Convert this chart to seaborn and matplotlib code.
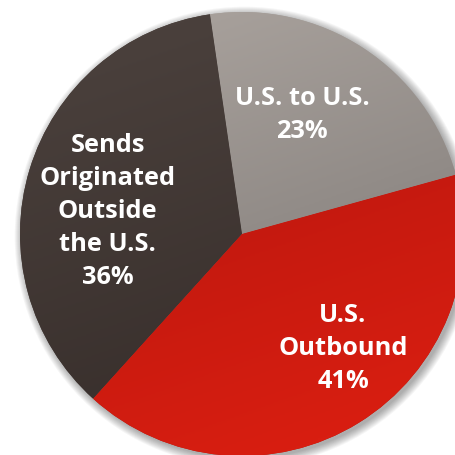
import numpy as np
import matplotlib
matplotlib.use('Agg')
import matplotlib.pyplot as plt
from matplotlib.colors import LinearSegmentedColormap
from matplotlib.patches import Circle
import seaborn as sns

sns.set_theme(style='white')
plt.rcParams['font.family'] = ['Open Sans', 'DejaVu Sans']

labels = ['U.S. to U.S.', 'Sends\nOriginated\nOutside\nthe U.S.', 'U.S.\nOutbound']
shares = [23, 36, 41]
top_colors = ['#a7a09b', '#4a403c', '#b2150d']
bottom_colors = ['#7c7774', '#352c29', '#d81e11']
label_pos = [(0.27, 0.535), (-0.605, 0.10), (0.455, -0.515)]

fig = plt.figure(figsize=(4.55, 4.55), dpi=100)
ax = fig.add_axes([0, 0, 1, 1])

# soft shadow on the lower right
for i in range(10):
    ax.add_patch(Circle((0.012, -0.012), 1.0 + 0.004 * i, color='black',
                        alpha=0.035, lw=0, zorder=0))

wedges, _ = ax.pie(shares, startangle=15.5, counterclock=True,
                   colors=top_colors, wedgeprops=dict(lw=0))

# gradient fill clipped to each wedge
yy, xx = np.mgrid[1.05:-1.05:300j, -1.05:1.05:300j]
grad = np.clip((xx * 0.35 - yy) / 2.1 + 0.5, 0, 1)
for w, c0, c1 in zip(wedges, top_colors, bottom_colors):
    cmap = LinearSegmentedColormap.from_list('g', [c0, c1])
    im = ax.imshow(grad, cmap=cmap, extent=(-1.05, 1.05, -1.05, 1.05),
                   origin='upper', zorder=2, interpolation='bilinear')
    im.set_clip_path(w)

for lab, val, (x, y) in zip(labels, shares, label_pos):
    ax.text(x, y, '{}\n{}%'.format(lab, val), ha='center', va='center',
            color='white', fontsize=18.3, fontweight='bold',
            linespacing=1.42, zorder=5)

ax.set_xlim(-242 / 222, (455 - 242) / 222)
ax.set_ylim(-(455 - 234) / 222, 234 / 222)
ax.set_aspect('equal')
ax.axis('off')

fig.savefig('out.png', dpi=100)
